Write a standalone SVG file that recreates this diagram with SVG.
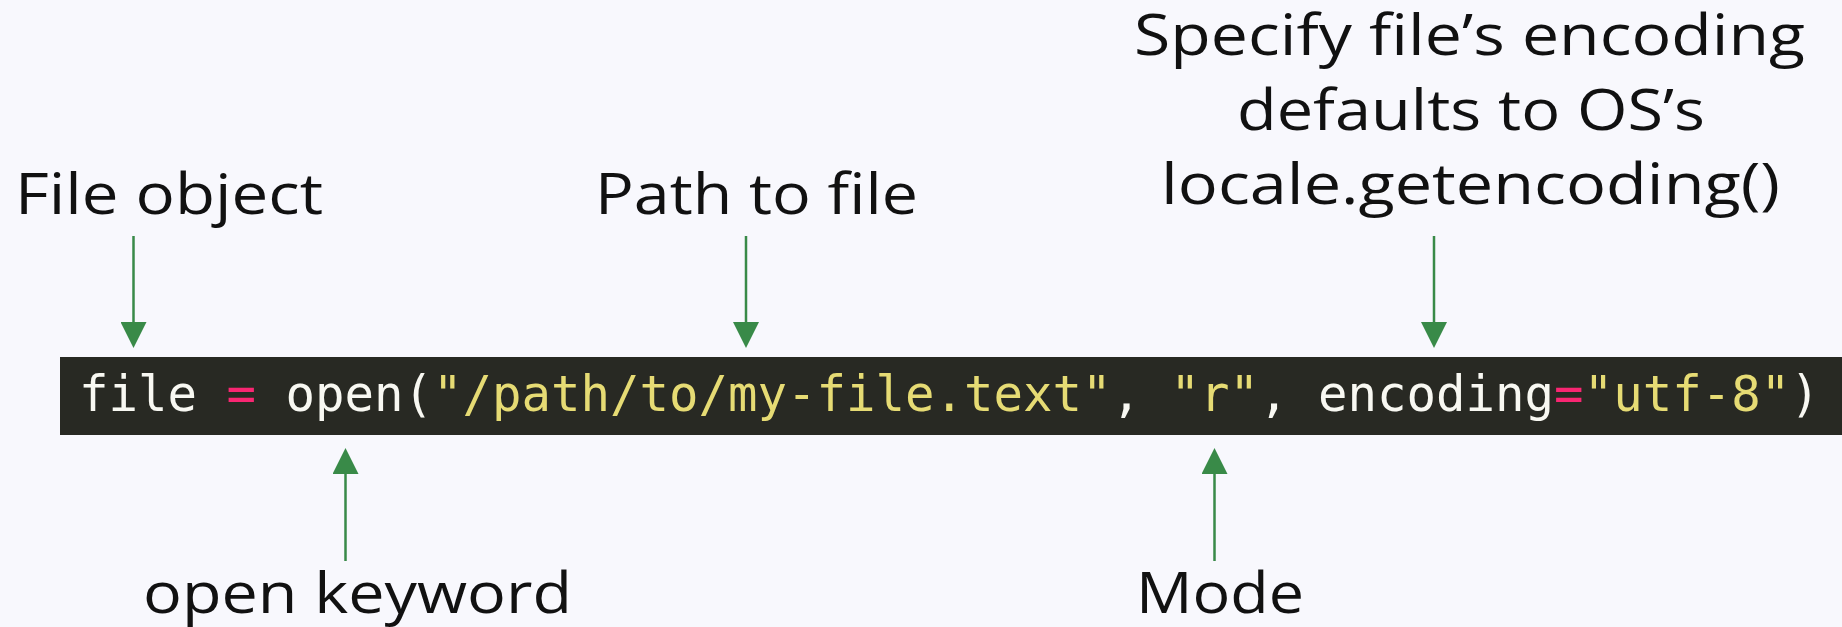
<svg xmlns="http://www.w3.org/2000/svg" width="1842" height="627" viewBox="0 0 1842 627">
<style>
.lbl{font-family:"Open Sans","Noto Sans","Liberation Sans",sans-serif;font-size:57px;fill:#111111;}
.code{font-family:"DejaVu Sans Mono","Liberation Mono",monospace;font-size:49px;}
.w{fill:#f8f8f2}.y{fill:#e6db74}.p{fill:#f92672}
.arr{stroke:#398a48;stroke-width:2.5;fill:none;marker-end:url(#ah);}
</style>
<defs>
<marker id="ah" markerUnits="userSpaceOnUse" markerWidth="26" markerHeight="26" viewBox="0 0 26 26" refX="18" refY="13" orient="auto">
<path d="M0,0 L26,13 L0,26 Z" fill="#398a48"/>
</marker>
</defs>
<rect width="1842" height="627" fill="#f8f8fd"/>
<g id="code">
<rect x="60" y="357" width="1782" height="78" fill="#282923"/>
<text class="code" x="79" y="411" xml:space="preserve"><tspan class="w">file </tspan><tspan class="p">=</tspan><tspan class="w"> open(</tspan><tspan class="y">"/path/to/my-file.text"</tspan><tspan class="w">, </tspan><tspan class="y">"r"</tspan><tspan class="w">, encoding</tspan><tspan class="p">=</tspan><tspan class="y">"utf-8"</tspan><tspan class="w">)</tspan></text>
</g>
<g id="file-object"><text class="lbl" x="15" y="214" textLength="308" lengthAdjust="spacingAndGlyphs">File object</text></g>
<g id="path-to-file"><text class="lbl" x="595" y="214" textLength="323" lengthAdjust="spacingAndGlyphs">Path to file</text></g>
<g id="encoding">
<text class="lbl" x="1134" y="55" textLength="671" lengthAdjust="spacingAndGlyphs">Specify file’s encoding</text>
<text class="lbl" x="1237" y="130" textLength="468" lengthAdjust="spacingAndGlyphs">defaults to OS’s</text>
<text class="lbl" x="1161" y="204" textLength="619" lengthAdjust="spacingAndGlyphs">locale.getencoding()</text>
</g>
<g id="open-keyword"><text class="lbl" x="143" y="613" textLength="429" lengthAdjust="spacingAndGlyphs">open keyword</text></g>
<g id="mode"><text class="lbl" x="1136" y="613" textLength="168" lengthAdjust="spacingAndGlyphs">Mode</text></g>
<g id="connectors">
<line class="arr" x1="133.5" y1="236" x2="133.5" y2="340"/>
<line class="arr" x1="746" y1="236" x2="746" y2="340"/>
<line class="arr" x1="1434" y1="236" x2="1434" y2="340"/>
<line class="arr" x1="345.5" y1="561" x2="345.5" y2="456"/>
<line class="arr" x1="1214.5" y1="561" x2="1214.5" y2="456"/>
</g>
</svg>
